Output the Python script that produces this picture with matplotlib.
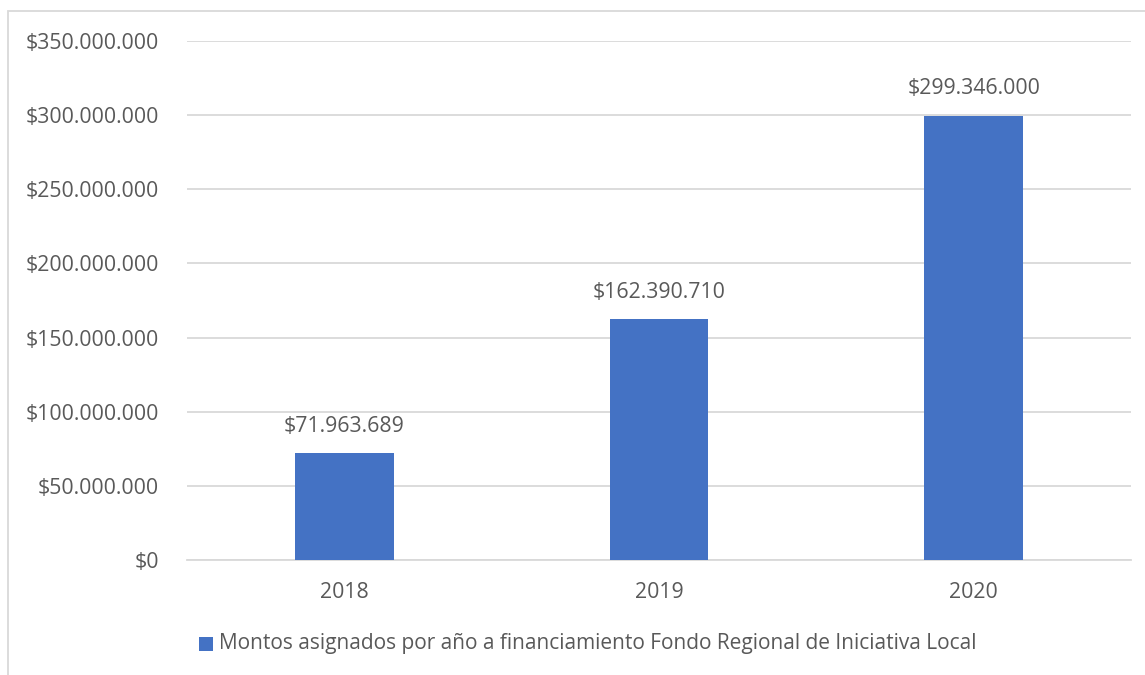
import matplotlib
matplotlib.use("Agg")
import matplotlib.pyplot as plt
from matplotlib.patches import Rectangle
from matplotlib.ticker import FuncFormatter, MultipleLocator

categories = ["2018", "2019", "2020"]
values = [71963689, 162390710, 299346000]
series_name = "Montos asignados por año a financiamiento Fondo Regional de Iniciativa Local"

plt.rcParams['font.family'] = ['Open Sans', 'DejaVu Sans']
TXT = "#595959"
GRID = "#d9d9d9"
BAR = "#4472C4"
FS = 15.3

W, H = 1145, 675
fig = plt.figure(figsize=(W/100, H/100), dpi=100)
ax = fig.add_axes([187/W, 1-560/H, (1131-187)/W, (560-41)/H])

def fmt(v):
    return "$" + f"{int(round(v)):,}".replace(",", ".")

x = range(len(categories))
bars = ax.bar(x, values, width=0.314, color=BAR, zorder=3)
for xi, v in zip(x, values):
    ax.annotate(fmt(v), (xi, v), xytext=(0, 12), textcoords="offset points",
                ha="center", va="bottom", fontsize=FS, color=TXT)

ax.set_xlim(-0.5, 2.5)
ax.set_ylim(0, 350000000)
ax.yaxis.set_major_locator(MultipleLocator(50000000))
ax.yaxis.set_major_formatter(FuncFormatter(lambda v, p: fmt(v)))
ax.set_xticks(list(x))
ax.set_xticklabels(categories)
ax.tick_params(axis="both", length=0, labelsize=FS, labelcolor=TXT)
ax.tick_params(axis="y", pad=20)
ax.tick_params(axis="x", pad=16)
ax.grid(axis="y", color=GRID, linewidth=1.3, zorder=0)
for s in ["top", "right", "left"]:
    ax.spines[s].set_visible(False)
ax.spines["bottom"].set_color(GRID)
ax.spines["bottom"].set_linewidth(1.3)

# legend
fig.patches.append(Rectangle((199/W, 1-651/H), 14/W, 14/H, transform=fig.transFigure,
                             facecolor=BAR, edgecolor="none"))
fig.text(219/W, 1-643/H, series_name, fontsize=15.0, color=TXT, ha="left", va="center")

# chart frame (clipped at right/bottom)
fig.patches.append(Rectangle((8/W, -0.1), 1.2, 1-11/H+0.1, transform=fig.transFigure,
                             facecolor="none", edgecolor=GRID, linewidth=1.3))

fig.savefig("out.png", dpi=100)
